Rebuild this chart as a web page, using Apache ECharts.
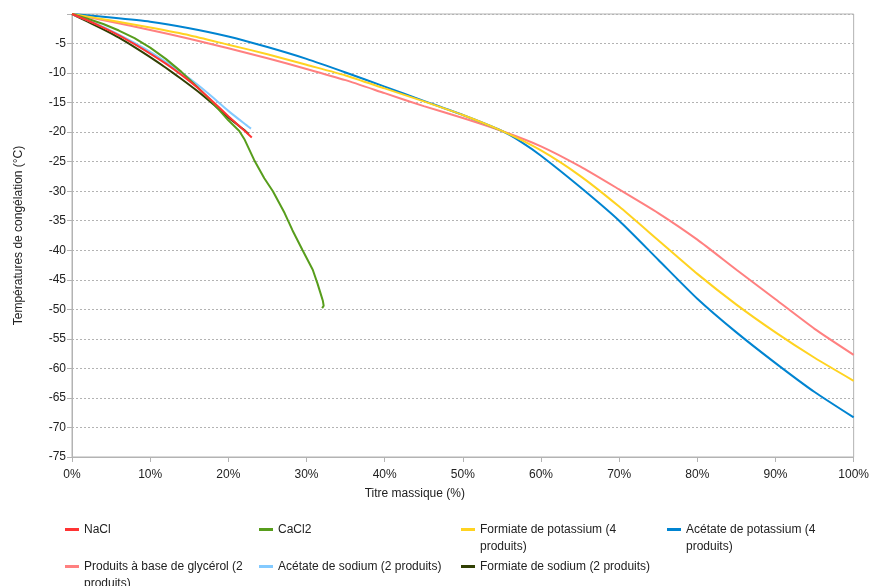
<!DOCTYPE html>
<html><head><meta charset="utf-8">
<script src="https://cdn.jsdelivr.net/npm/echarts@6/dist/echarts.min.js"></script>
<style>html,body{margin:0;padding:0;background:#fff}#c{width:872px;height:586px}</style>
</head><body><div id="c"></div><script>
// ---- data (x = titre massique %, y = température de congélation °C) ----
const seriesNames = [
  'NaCl',
  'CaCl2',
  'Formiate de potassium (4 produits)',
  'Acétate de potassium (4 produits)',
  'Produits à base de glycérol (2 produits)',
  'Acétate de sodium (2 produits)',
  'Formiate de sodium (2 produits)'
];
const xTickValues = [0,10,20,30,40,50,60,70,80,90,100];
const yTickValues = [0,-5,-10,-15,-20,-25,-30,-35,-40,-45,-50,-55,-60,-65,-70,-75];

const nacl = [[0,0],[2,-1.1],[4,-2.3],[6,-3.6],[8,-5.1],[10,-6.7],[12,-8.4],[14,-10.3],[16,-12.4],[18,-14.8],[20,-17.3],[22,-19.7],[23,-20.9]];
const cacl2 = [[0,0],[2,-0.8],[4,-1.7],[6,-2.8],[8,-4.1],[10,-5.7],[12,-7.6],[14,-9.8],[16,-12.3],[18,-15.0],[20,-18.0],[21.4,-19.8],[22.1,-21.3],[23.3,-24.7],[24.6,-27.8],[25.7,-30.0],[27.2,-33.7],[28.2,-36.6],[29.5,-40.0],[30.8,-43.3],[31.4,-45.6],[31.8,-47.3],[32.1,-48.6],[32.2,-49.4],[32.0,-49.8]];
const formiateK = [[0,0],[5,-1.1],[10,-2.3],[15,-3.6],[20,-5.2],[25,-6.8],[30,-8.6],[35,-10.4],[40,-12.6],[45,-14.8],[50,-17.1],[55,-19.8],[60,-23.1],[65,-27.4],[70,-32.6],[75,-38.3],[80,-44.0],[85,-49.2],[90,-53.9],[95,-58.2],[100,-62.1]];
const acetateK = [[0,0],[5,-0.6],[10,-1.3],[15,-2.4],[20,-3.8],[25,-5.6],[30,-7.6],[35,-9.9],[40,-12.3],[45,-14.7],[50,-17.1],[55,-19.8],[57.5,-21.7],[60,-24.0],[65,-29.3],[70,-35.0],[75,-41.6],[80,-48.2],[85,-53.9],[90,-59.1],[95,-64.0],[100,-68.3]];
const glycerol = [[0,0],[5,-1.3],[10,-2.7],[15,-4.2],[20,-5.8],[25,-7.5],[30,-9.3],[35,-11.2],[40,-13.4],[45,-15.6],[50,-17.6],[55,-19.8],[60,-22.4],[65,-25.8],[70,-29.7],[75,-33.7],[80,-38.2],[85,-43.3],[90,-48.3],[95,-53.3],[100,-57.7]];
const acetateNa = [[0,0],[2,-1.05],[4,-2.2],[6,-3.5],[8,-4.9],[10,-6.4],[12,-8.1],[14,-9.9],[16,-11.9],[18,-14.1],[20,-16.4],[22,-18.5],[22.9,-19.4]];
const formiateNa = [[0,0],[2,-1.3],[4,-2.6],[6,-4.0],[8,-5.6],[10,-7.3],[12,-9.1],[14,-11.0],[16,-13.0],[18,-15.2],[20,-17.5],[22,-19.6],[22.6,-20.3]];

const allData = [nacl, cacl2, formiateK, acetateK, glycerol, acetateNa, formiateNa];
const colors = ['#ff3333','#579d1c','#ffd320','#0084d1','#ff8080','#83caff','#314004'];
const legendLabels = {
  'Formiate de potassium (4 produits)': ' \nFormiate de potassium (4\nproduits)',
  'Acétate de potassium (4 produits)': ' \nAcétate de potassium (4\nproduits)',
  'Produits à base de glycérol (2 produits)': ' \nProduits à base de glycérol (2\nproduits)'
};
const legendLayout = [[65,521],[259,521],[461,521],[667,521],[65,558],[259,558],[461,558]];

const FONT = '"Liberation Sans", Arial, sans-serif';
const LH = 17;
const chart = echarts.init(document.getElementById('c'), null, {renderer:'canvas'});

const legends = seriesNames.map((n, i) => {
  const multi = !!legendLabels[n];
  return {
    data: [n],
    left: legendLayout[i][0],
    top: legendLayout[i][1] - (multi ? LH : 0),
    padding: 0,
    itemWidth: 14,
    itemHeight: 3,
    icon: 'rect',
    selectedMode: false,
    formatter: nm => legendLabels[nm] || nm,
    textStyle: {fontFamily: FONT, fontSize: 12, color: '#222', lineHeight: LH}
  };
});

chart.setOption({
  animation: false,
  backgroundColor: '#fff',
  color: colors,
  textStyle: {fontFamily: FONT},
  grid: {left: 72, top: 14, right: 16, bottom: 129, show: true, borderColor: '#b3b3b3', borderWidth: 1, containLabel: false},
  legend: legends,
  xAxis: {
    type: 'value', min: 0, max: 100, interval: 10, position: 'bottom',
    name: 'Titre massique (%)', nameLocation: 'middle', nameGap: 31,
    nameTextStyle: {fontFamily: FONT, fontSize: 12, color: '#222', padding: [0, 96, 0, 0]},
    axisLine: {show: true, onZero: false, lineStyle: {color: '#b3b3b3', width: 1}},
    axisTick: {show: true, length: 5, lineStyle: {color: '#b3b3b3'}},
    minorTick: {show: false},
    splitLine: {show: false},
    axisLabel: {fontFamily: FONT, fontSize: 12, color: '#222', margin: 12,
      formatter: v => xTickValues.includes(v) ? v + '%' : ''}
  },
  yAxis: {
    type: 'value', min: -75, max: 0, interval: 5,
    name: 'Températures de congélation (°C)', nameLocation: 'middle', nameGap: 47,
    nameTextStyle: {fontFamily: FONT, fontSize: 12, color: '#222'},
    axisLine: {show: true, onZero: false, lineStyle: {color: '#b3b3b3', width: 1}},
    axisTick: {show: true, length: 5, lineStyle: {color: '#b3b3b3'}},
    splitLine: {show: true, lineStyle: {color: '#b3b3b3', type: [2,2], width: 1}},
    axisLabel: {fontFamily: FONT, fontSize: 12, color: '#222', margin: 6,
      formatter: v => (v === 0 || !yTickValues.includes(v)) ? '' : String(v)}
  },
  series: seriesNames.map((n, i) => ({
    name: n, type: 'line', data: allData[i],
    showSymbol: false, symbol: 'none',
    smooth: i === 1 ? false : 0.2,
    lineStyle: {width: 2, color: colors[i]},
    itemStyle: {color: colors[i]},
    z: 2 + (7 - i)
  }))
});
</script></body></html>
